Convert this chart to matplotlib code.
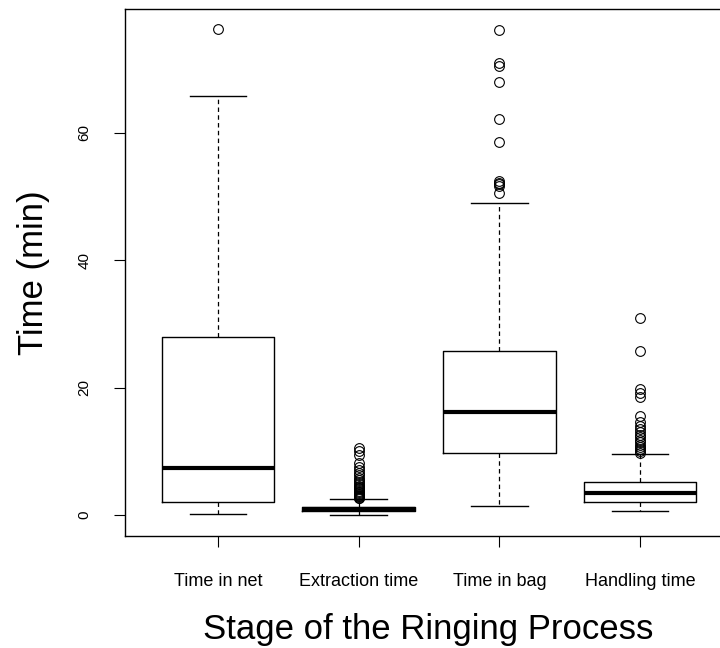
import matplotlib
matplotlib.use("Agg")
import matplotlib.pyplot as plt

plt.rcParams['font.family'] = ['Liberation Sans', 'DejaVu Sans']
plt.rcParams['lines.scale_dashes'] = False

categories = ["Time in net", "Extraction time", "Time in bag", "Handling time"]

# five-number summaries: [lower whisker, Q1, median, Q3, upper whisker]
net_stats = [0.1, 2.0, 7.4, 28.0, 65.7]
extraction_stats = [0.0, 0.55, 0.9, 1.2, 2.45]
bag_stats = [1.4, 9.7, 16.1, 25.8, 49.0]
handling_stats = [0.55, 2.0, 3.4, 5.1, 9.5]

net_outliers = [76.3]
extraction_outliers = [10.5, 10.1, 9.4, 8.1, 7.6, 7.0, 6.6, 6.2, 5.8, 5.5, 5.2,
                       4.9, 4.6, 4.4, 4.2, 4.0, 3.8, 3.6, 3.5, 3.3, 3.2, 3.0,
                       2.9, 2.8, 2.7, 2.6]
bag_outliers = [76.1, 70.9, 70.4, 68.0, 62.1, 58.6, 52.4, 52.1, 51.9, 51.7, 50.5]
handling_outliers = [30.9, 25.8, 19.8, 19.1, 18.5, 15.6, 14.6, 14.0, 13.5, 13.0,
                     12.6, 12.2, 11.8, 11.4, 11.0, 10.6, 10.3, 10.0, 9.8]

y_ticks = [0, 20, 40, 60]

all_stats = [net_stats, extraction_stats, bag_stats, handling_stats]
all_outliers = [net_outliers, extraction_outliers, bag_outliers, handling_outliers]

W, H = 720, 648
fig = plt.figure(figsize=(W / 100, H / 100), dpi=100)
L, R, T, B = 125, 733, 9, 536
ax = fig.add_axes([L / W, 1 - B / H, (R - L) / W, (B - T) / H])

bxp_stats = []
for lab, s, o in zip(categories, all_stats, all_outliers):
    bxp_stats.append(dict(label=lab, whislo=s[0], q1=s[1], med=s[2], q3=s[3],
                          whishi=s[4], fliers=o))

ax.bxp(bxp_stats, positions=[1, 2, 3, 4], widths=0.8, capwidths=0.4,
       boxprops=dict(color='black', linewidth=1.0),
       medianprops=dict(color='black', linewidth=3.0, solid_capstyle='butt'),
       whiskerprops=dict(color='black', linewidth=0.9, linestyle=(0, (3.2, 2.4))),
       capprops=dict(color='black', linewidth=1.0),
       flierprops=dict(marker='o', markerfacecolor='none', markeredgecolor='black',
                       markersize=7, markeredgewidth=0.8, linestyle='none'))

ax.set_xlim(0.34, 4.66)
ax.set_ylim(-3.3, 79.4)

ax.set_yticks(y_ticks)
ax.set_yticklabels([str(v) for v in y_ticks], rotation=90, va='center', fontsize=11)
ax.set_xticks([1, 2, 3, 4])
ax.set_xticklabels(categories, fontsize=13)
ax.tick_params(axis='y', length=8, width=0.8, pad=16, colors='black')
ax.tick_params(axis='x', length=8, width=0.8, pad=19, colors='black')
for sp in ax.spines.values():
    sp.set_linewidth(1.0)
    sp.set_color('black')

fig.text(428 / W, 1 - 629 / H, "Stage of the Ringing Process", fontsize=25,
         ha='center', va='center')
fig.text(33 / W, 1 - 273 / H, "Time (min)", fontsize=25, rotation=90,
         ha='center', va='center')

fig.savefig("out.png", dpi=100)
